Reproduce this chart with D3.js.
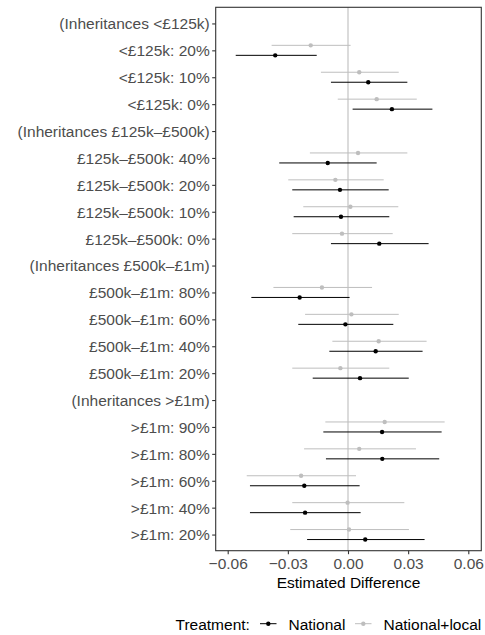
<!DOCTYPE html>
<html>
<head>
<meta charset="utf-8">
<script src="https://cdn.jsdelivr.net/npm/d3@7"></script>
<style>
	body { margin: 0; background: #fff; }
	svg text { font-family: 'Liberation Sans', Arial, sans-serif; }
</style>
</head>
<body>
<svg class="display"></svg>
<script>
// categories, top to bottom
const categories = [
	'(Inheritances <£125k)',
	'<£125k: 20%',
	'<£125k: 10%',
	'<£125k: 0%',
	'(Inheritances £125k–£500k)',
	'£125k–£500k: 40%',
	'£125k–£500k: 20%',
	'£125k–£500k: 10%',
	'£125k–£500k: 0%',
	'(Inheritances £500k–£1m)',
	'£500k–£1m: 80%',
	'£500k–£1m: 60%',
	'£500k–£1m: 40%',
	'£500k–£1m: 20%',
	'(Inheritances >£1m)',
	'>£1m: 90%',
	'>£1m: 80%',
	'>£1m: 60%',
	'>£1m: 40%',
	'>£1m: 20%'
];

// National: estimate, lower, upper (null = header row)
const nationalEst = [null, -0.0363, 0.0101, 0.0219, null, -0.0101, -0.004, -0.0035, 0.0156, null, -0.0241, -0.0013, 0.0138, 0.006, null, 0.017, 0.0171, -0.0218, -0.0214, 0.0086];
const nationalLo = [null, -0.056, -0.0085, 0.0023, null, -0.0343, -0.0278, -0.0271, -0.0085, null, -0.0482, -0.0248, -0.0093, -0.0176, null, -0.0123, -0.011, -0.0489, -0.0489, -0.0204];
const nationalHi = [null, -0.0156, 0.0296, 0.0421, null, 0.0143, 0.0203, 0.0206, 0.0402, null, 0.0008, 0.0226, 0.0372, 0.0303, null, 0.0467, 0.0455, 0.0058, 0.0063, 0.0382];

// National+local
const localEst = [null, -0.0186, 0.0056, 0.0143, null, 0.005, -0.0063, 0.0012, -0.003, null, -0.013, 0.0017, 0.0153, -0.0038, null, 0.0183, 0.0056, -0.0234, -0.0002, 0.0005];
const localLo = [null, -0.0381, -0.0135, -0.0051, null, -0.019, -0.0298, -0.0223, -0.0278, null, -0.0372, -0.0214, -0.0078, -0.0278, null, -0.0113, -0.0219, -0.0505, -0.0278, -0.0288];
const localHi = [null, 0.0013, 0.0253, 0.0343, null, 0.0296, 0.0178, 0.0251, 0.0223, null, 0.012, 0.0253, 0.0392, 0.0206, null, 0.0482, 0.0339, 0.004, 0.0281, 0.0304];

const xTicks = [-0.06, -0.03, 0, 0.03, 0.06];

const totalWidth = 485,
	totalHeight = 635,
	panel = { left: 215.7, right: 481.3, top: 7.3, bottom: 550.7 },
	fontSize = '15.5px';

const series = [
	{ name: 'National', color: '#000000', est: nationalEst, lo: nationalLo, hi: nationalHi, dy: 5 },
	{ name: 'National+local', color: '#bebebe', est: localEst, lo: localLo, hi: localHi, dy: -5 }
];

const xScale = d3.scaleLinear().domain([-0.06, 0.06]).range([227.7, 468.3]);
const yScale = d3.scalePoint().domain(categories).range([panel.top, panel.bottom]).padding(0.6);

const svg = d3.select('.display').attr('width', totalWidth).attr('height', totalHeight);

//zero reference line
svg.append('line')
	.attr('x1', xScale(0)).attr('x2', xScale(0))
	.attr('y1', panel.top).attr('y2', panel.bottom)
	.attr('stroke', '#bebebe').attr('stroke-width', 1.1);

//draw grey series first so black sits on top
series.slice().reverse().forEach((s) => {
	const rows = categories.map((c, i) => ({ c: c, est: s.est[i], lo: s.lo[i], hi: s.hi[i] }))
		.filter((d) => d.est !== null);
	const g = svg.append('g');
	g.selectAll('line').data(rows).enter().append('line')
		.attr('x1', (d) => xScale(d.lo)).attr('x2', (d) => xScale(d.hi))
		.attr('y1', (d) => yScale(d.c) + s.dy).attr('y2', (d) => yScale(d.c) + s.dy)
		.attr('stroke', s.color).attr('stroke-width', 1);
	g.selectAll('circle').data(rows).enter().append('circle')
		.attr('cx', (d) => xScale(d.est)).attr('cy', (d) => yScale(d.c) + s.dy)
		.attr('r', 2.2).attr('fill', s.color);
});

//panel border
svg.append('rect')
	.attr('x', panel.left).attr('y', panel.top)
	.attr('width', panel.right - panel.left).attr('height', panel.bottom - panel.top)
	.attr('fill', 'none').attr('stroke', '#333333').attr('stroke-width', 1.1);

//x axis
const xAxis = d3.axisBottom(xScale).tickValues(xTicks).tickSize(3.5).tickPadding(3)
	.tickFormat((d) => d3.format('.2f')(d).replace('-', '−'));
const gx = svg.append('g').attr('transform', 'translate(0,' + panel.bottom + ')').call(xAxis);
gx.select('.domain').remove();
gx.selectAll('.tick line').attr('stroke', '#333333').attr('stroke-width', 1.1);
gx.selectAll('.tick text').attr('fill', '#4d4d4d').style('font-size', fontSize).attr('dy', '0.75em');

//y axis
const yAxis = d3.axisLeft(yScale).tickSize(3.5).tickPadding(2.5);
const gy = svg.append('g').attr('transform', 'translate(' + panel.left + ',0)').call(yAxis);
gy.select('.domain').remove();
gy.selectAll('.tick line').attr('stroke', '#333333').attr('stroke-width', 1.1);
gy.selectAll('.tick text').attr('fill', '#4d4d4d').style('font-size', fontSize).attr('dy', '0.35em');

//x axis title
svg.append('text')
	.attr('x', (panel.left + panel.right) / 2).attr('y', 587.5)
	.attr('text-anchor', 'middle').style('font-size', fontSize).attr('fill', '#000')
	.text('Estimated Difference');

//legend
const legend = svg.append('g');
legend.append('text').attr('x', 175.5).attr('y', 630).style('font-size', fontSize).text('Treatment:');
const keyX = [260, 355];
series.forEach((s, i) => {
	const k = legend.append('g');
	k.append('line').attr('x1', keyX[i]).attr('x2', keyX[i] + 16.5)
		.attr('y1', 623.7).attr('y2', 623.7).attr('stroke', s.color).attr('stroke-width', 1);
	k.append('circle').attr('cx', keyX[i] + 8.3).attr('cy', 623.7).attr('r', 2.2).attr('fill', s.color);
	k.append('text').attr('x', keyX[i] + 28.5).attr('y', 630).style('font-size', fontSize).text(s.name);
});
</script>
</body>
</html>
